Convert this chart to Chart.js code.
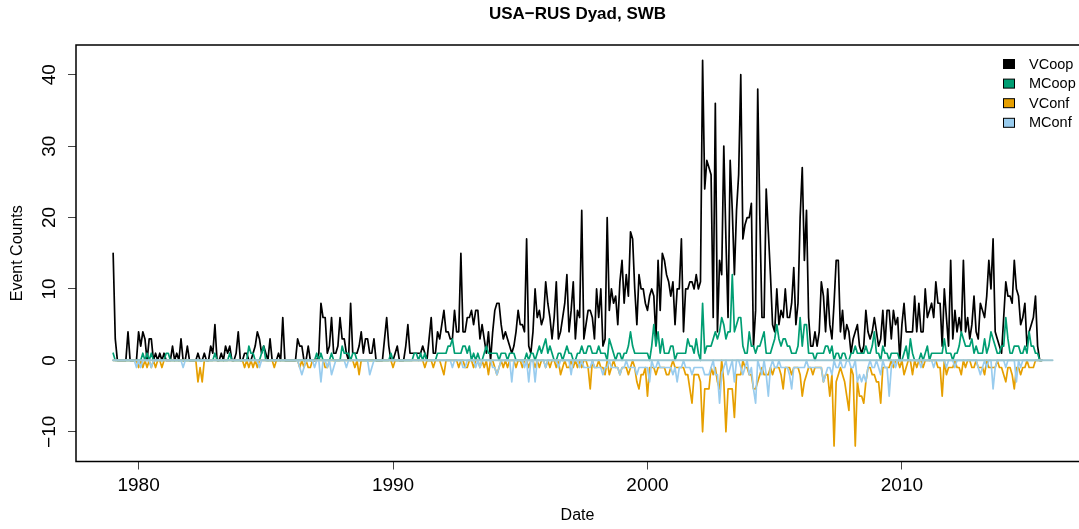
<!DOCTYPE html>
<html>
<head>
<meta charset="utf-8">
<script src="https://cdn.jsdelivr.net/npm/chart.js@4.4.0/dist/chart.umd.min.js"></script>
<style>
  html, body { margin: 0; padding: 0; background: #fff; }
  #wrap { width: 1079px; height: 529px; position: relative; }
</style>
</head>
<body>
<div id="wrap"><canvas id="dyadChart"></canvas></div>
<script>
// monthly counts, Jan 1979 onwards (one row per year)
const startYear = 1979;

const VCoop = [
  15, 3, 0, 0, 0, 0, 0, 4, 0, 0, 0, 0,
  4, 2, 4, 3, 0, 3, 3, 0, 1, 0, 1, 0,
  1, 0, 0, 0, 2, 0, 1, 0, 3, 0, 0, 2,
  0, 0, 0, 0, 1, 0, 0, 1, 0, 0, 2, 1,
  5, 0, 0, 1, 0, 2, 1, 2, 0, 0, 1, 4,
  0, 0, 1, 1, 0, 0, 1, 2, 4, 3, 1, 2,
  1, 0, 3, 0, 0, 0, 1, 0, 6, 0, 0, 0,
  0, 0, 0, 3, 2, 2, 0, 0, 2, 0, 0, 0,
  0, 1, 8, 6, 6, 1, 2, 6, 1, 1, 2, 6,
  3, 3, 1, 0, 8, 1, 1, 1, 2, 4, 1, 3,
  3, 1, 1, 3, 0, 0, 0, 0, 3, 6, 2, 0,
  0, 1, 2, 0, 0, 0, 2, 5, 1, 1, 1, 1,
  1, 1, 2, 1, 0, 3, 6, 1, 1, 4, 3, 5,
  7, 4, 4, 3, 3, 7, 4, 4, 15, 4, 4, 6,
  6, 7, 5, 7, 7, 3, 5, 3, 1, 4, 0, 4,
  7, 8, 8, 5, 3, 4, 3, 2, 1, 2, 4, 7,
  5, 5, 4, 17, 2, 1, 4, 10, 6, 7, 5, 6,
  11, 8, 6, 3, 6, 11, 3, 4, 6, 8, 12, 4,
  7, 11, 3, 7, 6, 21, 3, 5, 7, 7, 6, 3,
  10, 6, 10, 2, 3, 20, 7, 10, 8, 9, 5, 11,
  14, 8, 12, 9, 18, 17, 10, 5, 12, 10, 10, 8,
  7, 9, 10, 9, 3, 14, 7, 15, 14, 12, 11, 9,
  11, 5, 10, 10, 17, 4, 10, 10, 11, 11, 10, 12,
  10, 11, 42, 24, 28, 27, 26, 6, 36, 4, 14, 12,
  30, 17, 6, 28, 21, 12, 21, 26, 40, 17, 19, 20,
  20, 22, 2, 7, 38, 20, 6, 6, 24, 18, 12, 5,
  4, 10, 5, 7, 6, 10, 6, 6, 8, 13, 5, 8,
  20, 27, 14, 21, 6, 2, 2, 4, 2, 4, 11, 9,
  4, 10, 5, 3, 8, 14, 14, 4, 7, 3, 5, 4,
  1, 3, 4, 5, 2, 1, 2, 7, 4, 3, 4, 6,
  4, 2, 3, 7, 2, 7, 7, 3, 7, 5, 6, 0,
  5, 8, 4, 4, 4, 4, 9, 4, 8, 4, 4, 10,
  6, 7, 8, 6, 11, 8, 8, 2, 10, 6, 2, 14,
  3, 7, 4, 6, 4, 14, 4, 6, 3, 5, 9, 4,
  3, 8, 7, 6, 9, 14, 10, 17, 4, 3, 2, 1,
  6, 11, 9, 9, 8, 14, 10, 9, 5, 6, 8, 2,
  4, 5, 6, 9, 2, 0, 0
];

const MCoop = [
  1, 0, 0, 0, 0, 0, 0, 0, 0, 0, 0, 0,
  0, 0, 1, 0, 1, 0, 1, 0, 0, 0, 0, 0,
  0, 1, 1, 0, 0, 0, 0, 0, 0, 0, 0, 0,
  0, 0, 0, 0, 0, 0, 0, 0, 0, 0, 0, 0,
  1, 0, 0, 0, 0, 0, 0, 1, 0, 0, 0, 0,
  0, 0, 0, 0, 2, 1, 1, 0, 0, 0, 1, 2,
  0, 0, 0, 0, 0, 0, 0, 0, 0, 0, 0, 0,
  0, 0, 0, 0, 0, 0, 0, 0, 0, 0, 0, 0,
  1, 0, 1, 0, 0, 0, 0, 1, 0, 0, 0, 0,
  2, 1, 1, 1, 0, 1, 1, 0, 0, 0, 0, 0,
  0, 0, 0, 0, 0, 0, 0, 0, 0, 0, 0, 1,
  0, 0, 0, 0, 0, 0, 0, 0, 0, 0, 1, 1,
  0, 1, 0, 1, 0, 0, 0, 0, 0, 1, 1, 1,
  1, 1, 2, 2, 3, 1, 1, 1, 1, 2, 2, 1,
  2, 0, 1, 0, 1, 0, 0, 1, 2, 1, 1, 1,
  1, 1, 0, 1, 1, 1, 0, 1, 1, 1, 0, 0,
  0, 0, 0, 1, 0, 1, 1, 0, 1, 2, 1, 2,
  3, 1, 2, 1, 0, 0, 1, 1, 0, 1, 2, 1,
  1, 0, 0, 1, 1, 2, 1, 1, 2, 2, 1, 1,
  1, 2, 1, 1, 1, 0, 3, 2, 1, 0, 1, 1,
  0, 1, 1, 2, 4, 2, 1, 1, 1, 1, 1, 1,
  1, 0, 2, 5, 2, 4, 1, 3, 1, 1, 1, 2,
  2, 0, 1, 1, 1, 1, 1, 3, 2, 2, 1, 3,
  1, 0, 8, 1, 2, 2, 2, 3, 4, 3, 4, 6,
  5, 3, 4, 4, 12, 4, 5, 6, 6, 2, 1, 1,
  4, 2, 2, 1, 2, 2, 3, 4, 1, 1, 1, 2,
  3, 5, 3, 2, 3, 3, 2, 2, 1, 1, 1, 2,
  6, 2, 5, 5, 1, 1, 1, 0, 1, 1, 1, 1,
  2, 2, 1, 2, 0, 1, 1, 0, 1, 1, 0, 0,
  1, 1, 2, 1, 1, 1, 1, 2, 1, 1, 2, 4,
  1, 1, 0, 2, 1, 1, 0, 1, 1, 1, 1, 0,
  0, 1, 2, 0, 3, 1, 0, 0, 0, 1, 0, 1,
  2, 0, 1, 1, 1, 1, 1, 1, 3, 1, 1, 1,
  0, 1, 1, 2, 4, 3, 2, 2, 2, 3, 1, 2,
  1, 1, 1, 3, 1, 2, 4, 3, 2, 1, 1, 2,
  2, 6, 3, 1, 1, 2, 2, 2, 1, 1, 2, 1,
  4, 2, 2, 1, 1, 0, 0
];

const VConf = [
  0, 0, 0, 0, 0, 0, 0, 0, 0, 0, 0, 0,
  -1, 0, -1, 0, -1, 0, -1, 0, -1, 0, 0, -1,
  0, 0, 0, 0, 0, 0, 0, 0, 0, 0, 0, 0,
  0, 0, 0, 0, -3, -1, -3, 0, 0, 0, 0, 0,
  0, 0, 0, 0, 0, 0, 0, 0, 0, 0, 0, 0,
  0, 0, -1, 0, -1, 0, -1, 0, -1, 0, 0, 0,
  0, 0, 0, 0, -1, 0, 0, 0, 0, 0, 0, 0,
  0, 0, 0, 0, -1, 0, -1, 0, -1, -1, 0, 0,
  0, 0, 0, 0, -1, -1, 0, 0, 0, 0, 0, 0,
  0, 0, 0, 0, 0, 0, -1, 0, -2, 0, 0, 0,
  0, 0, 0, 0, 0, 0, 0, 0, 0, 0, 0, 0,
  -1, 0, 0, 0, 0, 0, 0, 0, 0, 0, 0, 0,
  0, 0, 0, -1, 0, 0, 0, -1, 0, 0, 0, -1,
  -2, 0, 0, 0, 0, 0, 0, -1, 0, 0, -1, -1,
  0, 0, -1, 0, 0, -1, 0, -1, 0, -2, 0, 0,
  -1, -2, -1, 0, -1, 0, -1, 0, 0, 0, -1, 0,
  0, -1, 0, 0, -1, 0, 0, -1, 0, -1, 0, 0,
  -1, 0, -1, 0, 0, -1, 0, -2, -1, 0, -1, -1,
  0, -1, 0, -1, 0, -1, 0, 0, -1, -4, 0, -1,
  -1, 0, -1, -1, -2, 0, -2, -1, 0, -1, -1, -2,
  -1, -1, -1, -2, -1, 0, -1, -3, -4, -2, -2, -1,
  -5, -1, -1, -1, -2, -1, -1, -1, -1, -2, -2, -1,
  0, -1, -1, -1, -1, -1, -2, -2, -4, -6, -2, -2,
  -2, -3, -10, -4, -4, -4, -1, -2, -1, -3, -4, 0,
  -3, -10, -4, -4, -4, -8, -2, -2, -2, 0, -1, -1,
  -2, -2, -4, -4, -3, -2, -1, -2, -2, -2, -1, -2,
  -1, -1, -1, -2, -4, -1, -1, -1, -2, -1, -1, -1,
  -2, -5, -3, -2, -1, -1, -2, -1, -1, -1, -1, -3,
  -2, -2, -5, -2, -12, -3, -2, -1, -2, -3, -5, -7,
  -1, -2, -12, -3, -5, -5, -6, -3, -1, -1, -2, -2,
  -3, -3, -6, -1, -1, -1, -1, 0, -1, 0, 0, -1,
  0, -2, -1, 0, 0, -2, 0, -1, 0, 0, -1, 0,
  0, 0, 0, 0, 0, -1, -1, -5, 0, -2, -1, -1,
  -1, 0, -1, -1, -2, 0, -1, 0, 0, -1, -1, 0,
  -1, -1, -1, -2, 0, -1, -1, -1, -1, 0, -1, -1,
  -2, -3, -1, -1, -2, -4, -1, -1, -2, -1, -1, 0,
  -1, -1, -1, 0, 0, 0, 0
];

const MConf = [
  0, 0, 0, 0, 0, 0, 0, 0, 0, 0, 0, -1,
  0, -1, 0, 0, 0, 0, -1, 0, 0, 0, 0, 0,
  0, 0, 0, 0, 0, 0, 0, 0, 0, -1, 0, 0,
  0, 0, 0, 0, 0, 0, 0, 0, 0, 0, 0, 0,
  0, 0, 0, 0, 0, 0, 0, 0, 0, 0, 0, 0,
  0, 0, 0, 0, 0, 0, 0, 0, 0, -1, 0, 0,
  0, 0, 0, 0, 0, 0, 0, 0, 0, 0, 0, 0,
  0, 0, 0, 0, -1, -2, -1, 0, 0, 0, 0, -1,
  0, 0, -3, 0, 0, -1, 0, -2, -1, 0, 0, 0,
  0, 0, -1, 0, 0, 0, 0, 0, 0, 0, 0, 0,
  0, -2, -1, 0, 0, 0, 0, 0, 0, 0, 0, 0,
  0, 0, 0, 0, 0, 0, 0, 0, 0, 0, 0, 0,
  0, 0, 0, 0, 0, 0, 0, 0, 0, 0, 0, 0,
  0, 0, 0, 0, -1, 0, 0, 0, 0, -1, -1, 0,
  0, 0, 0, -1, 0, -1, 0, 0, 0, 0, 0, -1,
  -1, -2, -1, 0, 0, 0, 0, 0, -3, 0, 0, 0,
  0, 0, -1, 0, -3, 0, 0, -3, 0, 0, 0, 0,
  -1, 0, 0, 0, 0, 0, -1, 0, 0, 0, 0, 0,
  -2, 0, 0, 0, -1, 0, -1, -1, -1, -1, 0, -1,
  -1, -1, -1, -2, -1, -1, 0, -1, -1, -1, -1, -2,
  -1, -1, 0, -1, -1, -1, -1, -2, -1, -1, -1, -1,
  -1, -3, 0, -1, -1, 0, -1, -1, -1, -1, -1, -1,
  -2, -1, -3, -1, -1, 0, -1, -1, -1, -2, -1, -1,
  -1, -1, -1, -2, -2, -2, -1, 0, -2, -2, -6, -2,
  -1, 0, -2, -1, 0, -3, 0, 0, -1, -2, -1, 0,
  -2, -1, -4, -6, 0, -1, -2, 0, -2, -5, -1, 0,
  -1, -1, 0, -1, -1, -1, -1, -2, -4, -1, -1, -1,
  -1, -1, -1, 0, -1, -1, -1, -1, -1, -1, -1, -3,
  -2, -1, -1, -2, 0, -1, -1, 0, -1, -1, 0, 0,
  -1, -1, 0, -3, -2, -3, -2, -3, -1, 0, -1, -1,
  0, -1, -2, 0, -1, -1, -5, -1, 0, -1, 0, 0,
  0, 0, 0, 0, 0, 0, 0, 0, 0, -1, 0, 0,
  0, 0, 0, -1, 0, 0, 0, 0, 0, -1, 0, 0,
  0, -1, 0, 0, 0, 0, 0, 0, 0, 0, 0, 0,
  -1, -2, -1, 0, -1, 0, 0, -4, -1, 0, 0, 0,
  0, -1, 0, 0, 0, 0, -3, 0, -1, 0, 0, 0,
  0, 0, 0, 0, 0, 0, 0
];

const seriesNames = ['VCoop', 'MCoop', 'VConf', 'MConf'];
const seriesColors = ['#000000', '#009E73', '#E69F00', '#99CCEE'];
const xTicks = [1980, 1990, 2000, 2010];
const yTicks = [-10, 0, 10, 20, 30, 40];
const baselineSpan = [1979, 2015.92];

const FONT = '"Liberation Sans", Arial, Helvetica, sans-serif';
Chart.defaults.font.family = FONT;
Chart.defaults.color = '#000';

const toPoints = (values) => values.map((v, i) => ({ x: startYear + i / 12, y: v }));

const lineStyle = (color, order) => ({
  borderColor: color,
  borderWidth: 1.7,
  borderJoinStyle: 'round',
  borderCapStyle: 'round',
  pointRadius: 0,
  fill: false,
  tension: 0,
  order: order,
});

// box round the plot + legend in the top right corner, drawn like base R
const frameAndLegend = {
  id: 'frameAndLegend',
  afterLayout(chart) {
    const a = chart.chartArea;
    chart.titleBlock.left = a.left;
    chart.titleBlock.right = a.right;
  },
  afterDraw(chart) {
    const { ctx, chartArea: a } = chart;
    ctx.save();
    ctx.strokeStyle = '#000';
    ctx.lineWidth = 1.5;
    ctx.beginPath();
    ctx.moveTo(a.right + 2, a.top);
    ctx.lineTo(a.left, a.top);
    ctx.lineTo(a.left, a.bottom);
    ctx.lineTo(a.right + 2, a.bottom);
    ctx.stroke();

    ctx.font = '14.5px ' + FONT;
    ctx.textBaseline = 'middle';
    ctx.textAlign = 'left';
    seriesNames.forEach((name, i) => {
      const y = a.top + 19 + i * 19.6;
      const bx = a.right - 75.5;
      ctx.fillStyle = seriesColors[i];
      ctx.fillRect(bx, y - 4.5, 11, 9);
      ctx.lineWidth = 1;
      ctx.strokeStyle = '#000';
      ctx.strokeRect(bx, y - 4.5, 11, 9);
      ctx.fillStyle = '#000';
      ctx.fillText(name, a.right - 50, y + 0.5);
    });
    ctx.restore();
  }
};

const ctx = document.getElementById('dyadChart').getContext('2d');
const chart = new Chart(ctx, {
  type: 'line',
  data: {
    datasets: [
      { label: 'VCoop', data: toPoints(VCoop), ...lineStyle(seriesColors[0], 5) },
      { label: 'MCoop', data: toPoints(MCoop), ...lineStyle(seriesColors[1], 4) },
      { label: 'VConf', data: toPoints(VConf), ...lineStyle(seriesColors[2], 3) },
      { label: 'MConf', data: toPoints(MConf), ...lineStyle(seriesColors[3], 2) },
      {
        label: 'zero',
        data: baselineSpan.map((x) => ({ x: x, y: 0 })),
        ...lineStyle('#9CC6D2', 1),
        borderWidth: 2,
      },
    ],
  },
  options: {
    responsive: true,
    maintainAspectRatio: false,
    animation: false,
    events: [],
    layout: { padding: 0 },
    plugins: {
      legend: { display: false },
      tooltip: { enabled: false },
      title: {
        display: true,
        text: 'USA\u2212RUS Dyad, SWB',
        color: '#000',
        font: { size: 17, weight: 'bold' },
        padding: { top: 4, bottom: 20.6 },
      },
    },
    scales: {
      x: {
        type: 'linear',
        min: 1977.54,
        max: 2016.96,
        afterBuildTicks: (s) => { s.ticks = xTicks.map((v) => ({ value: v })); },
        afterFit: (s) => { s.height = 67.5; },
        grid: { drawOnChartArea: false, tickLength: 8, color: '#444', lineWidth: 1 },
        border: { display: false },
        ticks: {
          padding: 5,
          maxRotation: 0,
          font: { size: 19 },
          callback: (v) => String(v),
        },
        title: {
          display: true,
          text: 'Date',
          font: { size: 16 },
          padding: { top: 0, bottom: 3.5 },
        },
      },
      y: {
        type: 'linear',
        min: -14.16,
        max: 44.16,
        afterBuildTicks: (s) => { s.ticks = yTicks.map((v) => ({ value: v })); },
        afterFit: (s) => { s.width = 76; },
        grid: { drawOnChartArea: false, tickLength: 8, color: '#444', lineWidth: 1 },
        border: { display: false },
        ticks: {
          minRotation: 90,
          maxRotation: 90,
          crossAlign: 'center',
          padding: 2,
          font: { size: 19 },
          callback: (v) => (v < 0 ? '\u2212' + Math.abs(v) : String(v)),
        },
        title: {
          display: true,
          text: 'Event Counts',
          font: { size: 16 },
          padding: { top: 8, bottom: 0 },
        },
      },
    },
  },
  plugins: [frameAndLegend],
});
</script>
</body>
</html>
